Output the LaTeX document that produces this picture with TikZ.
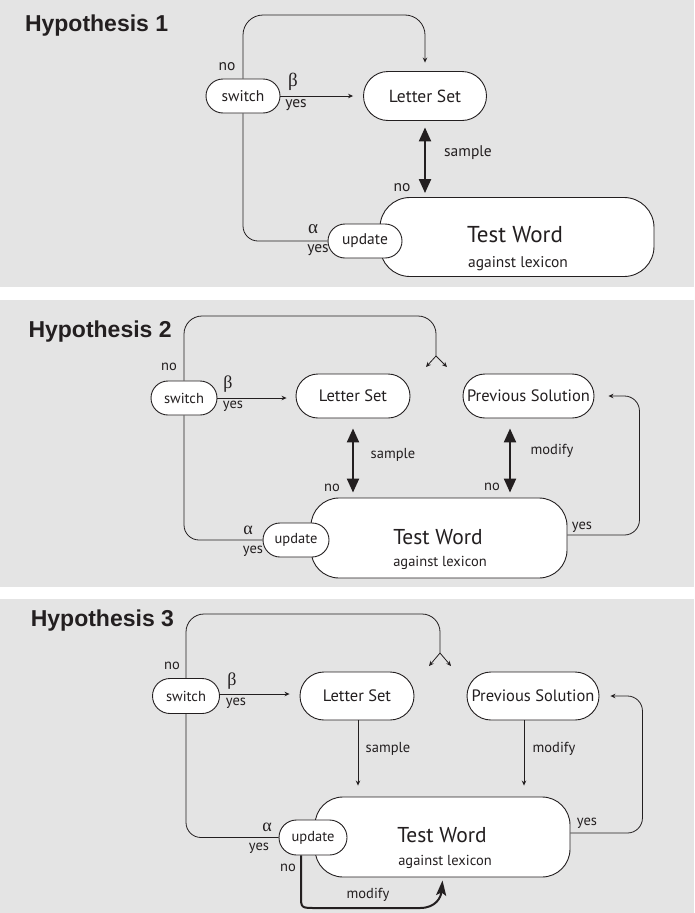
\documentclass[tikz,border=0pt]{standalone}
\usepackage{fontspec}
\setmainfont{PT Sans}
\newfontfamily\titlefont{Liberation Sans}
\newfontfamily\grkfont{Liberation Serif}
\usetikzlibrary{arrows.meta,calc}
\newcommand\fs[1]{\fontsize{#1}{#1}\selectfont}
\definecolor{panelgray}{RGB}{228,228,228}
\definecolor{ink}{RGB}{35,31,32}
\tikzset{
  pill/.style={draw=ink, line width=0.9pt, fill=white, rectangle, rounded corners=#1, inner sep=0pt, text=ink},
  ttl/.style={anchor=base west, text=ink, font=\titlefont\bfseries\fs{23}},
  lbl/.style={text=ink, inner sep=0pt, font=\fs{14.5}},
  lblA/.style={text=ink, inner sep=0pt, font=\fs{15.5}},
  grk/.style={text=ink, inner sep=0pt, font=\grkfont\fs{18}},
  grkA/.style={text=ink, inner sep=0pt, font=\grkfont\fs{19}},
  twtxt/.style={text=ink, inner sep=0pt, font=\fs{21.5}},
  twtxtA/.style={text=ink, inner sep=0pt, font=\fs{23}},
  ln/.style={draw=ink, line width=0.8pt},
  arr/.style={draw=ink, line width=0.8pt, -{Stealth[length=5pt,width=4.5pt]}},
  dbl/.style={draw=ink, line width=2.2pt, {Triangle[length=14pt,width=12pt]}-{Triangle[length=14pt,width=12pt]}},
  thk/.style={draw=ink, line width=2pt, -{Stealth[length=15pt,width=10pt,inset=3pt]}},
}
\begin{document}
\begin{tikzpicture}[x=1pt,y=-1pt]
\useasboundingbox (0,0) rectangle (694,913);
\fill[white] (0,0) rectangle (694,913);
\fill[panelgray] (0,0) rectangle (694,287);
\fill[panelgray] (0,300) rectangle (694,587);
\fill[panelgray] (0,599) rectangle (694,913);

% ---------------- Panel 1 ----------------
\node[ttl] (t1) at (21.5,31.7) {Hypothesis 1};
\node[pill=24.5pt, minimum width=123pt, minimum height=49pt, font=\fs{17.5}] (ls1) at (425,96) {Letter Set};
\node[pill=17pt, minimum width=74pt, minimum height=34pt, font=\fs{15.5}] (sw1) at (243,96) {switch};
\node[pill=30pt, minimum width=274pt, minimum height=79pt] (tw1) at (517,237) {};
\node[pill=17pt, minimum width=74pt, minimum height=34pt, font=\fs{15.5}] (up1) at (365,241) {update};
\node[twtxtA] (tw1a) at (515,235) {Test Word};
\node[lblA] (tw1b) at (518,264) {against lexicon};

\draw[arr, rounded corners=20pt] (sw1.north) -- (sw1.north |- 0,15) -- (ls1.north |- 0,15) -- ([yshift=8.5pt]ls1.north);
\draw[arr, shorten >=10pt] (sw1.east) -- (ls1.west);
\draw[ln, rounded corners=15pt] (sw1.south) |- (up1.west);
\draw[dbl, shorten <=6.5pt, shorten >=4pt] (ls1.south) -- (ls1.south |- tw1.north);

\node[lblA] (n1a) at (227,67) {no};
\node[grkA] (b1) at (293,82) {β};
\node[lblA] (y1a) at (296,105) {yes};
\node[lblA] (s1) at (468,153) {sample};
\node[lblA] (n1b) at (402,188) {no};
\node[grkA] (a1) at (313,229) {α};
\node[lblA] (y1b) at (318,250) {yes};

% ---------------- Panel 2 ----------------
\node[ttl] (t2) at (25,337.3) {Hypothesis 2};
\node[pill=22pt, minimum width=114pt, minimum height=44pt, font=\fs{16.5}] (ls2) at (353,396) {Letter Set};
\node[pill=22pt, minimum width=131pt, minimum height=44pt, font=\fs{16.5}] (ps2) at (528.5,396) {Previous Solution};
\node[pill=17pt, minimum width=66pt, minimum height=34pt, font=\fs{14.5}] (sw2) at (184,398) {switch};
\node[pill=28pt, minimum width=256pt, minimum height=80pt] (tw2) at (439,538) {};
\node[pill=17pt, minimum width=66pt, minimum height=34pt, font=\fs{14.5}] (up2) at (296,540) {update};
\node[twtxt] (tw2a) at (438,537) {Test Word};
\node[lbl] (tw2b) at (440,563) {against lexicon};

\coordinate (sp2) at (436,356);
\coordinate (sp2l) at (426,367);
\coordinate (sp2r) at (447,367);
\draw[ln, rounded corners=18pt] (sw2.north) -- (sw2.north |- 0,316) -- (sp2 |- 0,316) -- (sp2);
\draw[arr] (sp2) -- (sp2l);
\draw[arr] (sp2) -- (sp2r);
\draw[arr, shorten >=9pt] (sw2.east) -- (sw2.east -| ls2.west);
\draw[ln, rounded corners=15pt] (sw2.south) |- (up2.west);
\draw[dbl, shorten <=10pt, shorten >=5pt] (ls2.south) -- (ls2.south |- tw2.north);
\draw[dbl, shorten <=10pt, shorten >=5pt] ([xshift=-18.5pt]ps2.south) -- ([xshift=-18.5pt]ps2.south |- tw2.north);
\draw[arr, rounded corners=15pt, shorten >=14pt] ([yshift=3pt]tw2.east) -| ($(ps2.east)+(45,0)$) -- (ps2.east);

\node[lbl] (n2a) at (169,367) {no};
\node[grk] (b2) at (228,384) {β};
\node[lbl] (y2a) at (233,406) {yes};
\node[lbl] (s2) at (393,455) {sample};
\node[lbl] (n2b) at (332,488) {no};
\node[lbl] (m2) at (552,451) {modify};
\node[lbl] (n2c) at (492,487) {no};
\node[grk] (a2) at (248,530) {α};
\node[lbl] (y2b) at (253,551) {yes};
\node[lbl] (y2c) at (582,527) {yes};

% ---------------- Panel 3 ----------------
\node[ttl] (t3) at (27.3,626.7) {Hypothesis 3};
\node[pill=24pt, minimum width=114pt, minimum height=48pt, font=\fs{16.5}] (ls3) at (357,696) {Letter Set};
\node[pill=24pt, minimum width=132pt, minimum height=48pt, font=\fs{16.5}] (ps3) at (533,696) {Previous Solution};
\node[pill=17.5pt, minimum width=67pt, minimum height=35pt, font=\fs{14.5}] (sw3) at (186,696) {switch};
\node[pill=28pt, minimum width=255pt, minimum height=80pt] (tw3) at (442.5,837) {};
\node[pill=17.5pt, minimum width=68pt, minimum height=35pt, font=\fs{14.5}] (up3) at (313,837.5) {update};
\node[twtxt] (tw3a) at (442,835) {Test Word};
\node[lbl] (tw3b) at (445,862) {against lexicon};

\coordinate (sp3) at (440,653);
\coordinate (sp3l) at (429,666);
\coordinate (sp3r) at (451,666);
\draw[ln, rounded corners=18pt] (sw3.north) -- (sw3.north |- 0,614) -- (sp3 |- 0,614) -- (sp3);
\draw[arr] (sp3) -- (sp3l);
\draw[arr] (sp3) -- (sp3r);
\draw[arr, shorten >=10pt] ([yshift=2pt]sw3.east) -- ([yshift=2pt]sw3.east -| ls3.west);
\draw[ln, rounded corners=15pt] (sw3.south) |- (up3.west);
\draw[arr, shorten >=11pt] ([xshift=1pt]ls3.south) -- ([xshift=1pt]ls3.south |- tw3.north);
\draw[arr, shorten >=11pt] ([xshift=-9pt]ps3.south) -- ([xshift=-9pt]ps3.south |- tw3.north);
\draw[arr, rounded corners=15pt, shorten >=11pt] ([yshift=4pt]tw3.east) -| ($(ps3.east)+(43,0)$) -- (ps3.east);
\draw[thk] ([xshift=-12pt]up3.south) -- ++(0,40) .. controls (301,908) .. (316,908) -- (420,908) .. controls (436,908) and (441,897) .. ([yshift=-3pt]tw3.south);

\node[lbl] (n3a) at (172,666) {no};
\node[grk] (b3) at (232,681) {β};
\node[lbl] (y3a) at (236,703) {yes};
\node[lbl] (s3) at (388,749) {sample};
\node[lbl] (m3) at (554,749) {modify};
\node[grk] (a3) at (267,827) {α};
\node[lbl] (y3b) at (259,848) {yes};
\node[lbl] (y3c) at (587,823) {yes};
\node[lbl] (n3b) at (288,868) {no};
\node[lbl] (m3b) at (368,895) {modify};
\end{tikzpicture}
\end{document}
